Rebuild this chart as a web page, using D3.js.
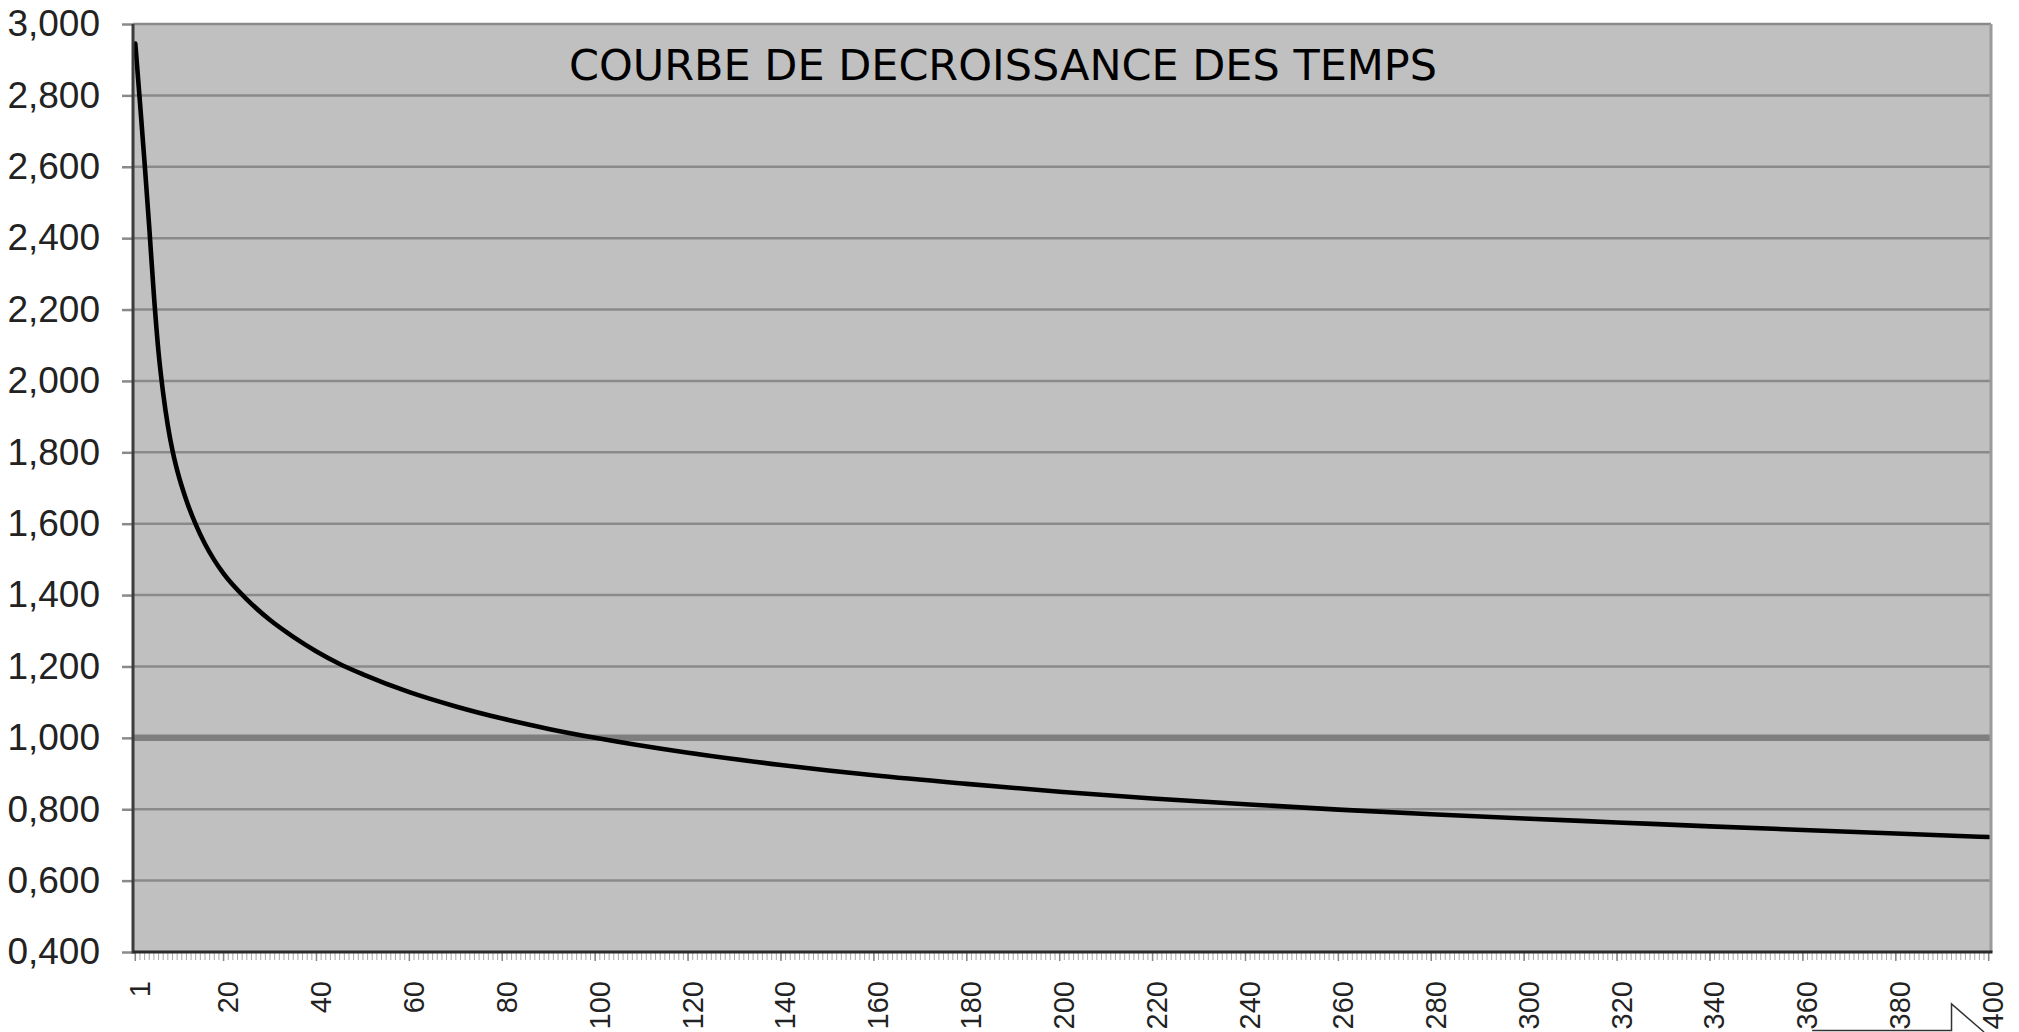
<!DOCTYPE html>
<html>
<head>
<meta charset="utf-8">
<script src="https://cdn.jsdelivr.net/npm/d3@7"></script>
<style>
  html, body { margin: 0; padding: 0; background: #ffffff; }
  svg { display: block; }
</style>
</head>
<body>
<svg id="chart" width="2019" height="1032"></svg>
<script>
// ---------- data ----------
const chartTitle = "COURBE DE DECROISSANCE DES TEMPS";
const categories = d3.range(1, 401);             // x categories 1 … 400
const xTickLabels = [1, 20, 40, 60, 80, 100, 120, 140, 160, 180, 200, 220, 240, 260, 280, 300, 320, 340, 360, 380, 400];
const yTickValues = [0.4, 0.6, 0.8, 1.0, 1.2, 1.4, 1.6, 1.8, 2.0, 2.2, 2.4, 2.6, 2.8, 3.0];
const referenceLevel = 1.0;

const pointCategory = [1, 2, 3, 4, 5, 6, 7, 8, 9, 10, 12, 14, 16, 18, 20, 25, 30, 35, 40, 45, 50, 60, 70, 80, 90, 100,
  120, 140, 160, 180, 200, 220, 240, 260, 280, 300, 320, 340, 360, 380, 400];
const timeRatio = [2.945, 2.78, 2.61, 2.43, 2.24, 2.08, 1.965, 1.875, 1.805, 1.75, 1.665, 1.598, 1.543, 1.498, 1.46,
  1.388, 1.33, 1.283, 1.242, 1.207, 1.178, 1.128, 1.088, 1.054, 1.025, 1.0,
  0.958, 0.924, 0.895, 0.871, 0.849, 0.830, 0.814, 0.799, 0.786, 0.774, 0.763, 0.752, 0.742, 0.732, 0.722];

// ---------- layout ----------
const svg = d3.select("#chart");
const plot = { left: 133, right: 1991, top: 24, bottom: 952 };

const x = d3.scaleBand().domain(categories).range([plot.left, plot.right]).padding(0);
const y = d3.scaleLinear().domain([0.4, 3.0]).range([plot.bottom, plot.top]);
const cx = c => x(c) + x.bandwidth() / 2;

const fmt = v => d3.format(".3f")(v).replace(".", ",");

// plot background
svg.append("rect")
  .attr("x", plot.left).attr("y", plot.top)
  .attr("width", plot.right - plot.left).attr("height", plot.bottom - plot.top)
  .attr("fill", "#c0c0c0");

// horizontal gridlines
svg.append("g").selectAll("line")
  .data(yTickValues.filter(v => v !== referenceLevel && v !== 0.4))
  .join("line")
  .attr("x1", plot.left).attr("x2", plot.right)
  .attr("y1", d => y(d)).attr("y2", d => y(d))
  .attr("stroke", "#8a8a8a").attr("stroke-width", 2.5);

// reference level (1,000) thicker line
svg.append("line")
  .attr("x1", plot.left).attr("x2", plot.right)
  .attr("y1", y(referenceLevel)).attr("y2", y(referenceLevel))
  .attr("stroke", "#7f7f7f").attr("stroke-width", 6.5);

// title (inside plot)
svg.append("text")
  .attr("x", 569).attr("y", 80)
  .attr("textLength", 868).attr("lengthAdjust", "spacingAndGlyphs")
  .attr("font-family", "'DejaVu Sans', Verdana, sans-serif")
  .attr("font-size", 43)
  .attr("fill", "#000")
  .text(chartTitle);

// curve
const line = d3.line()
  .x((d, i) => cx(pointCategory[i]))
  .y(d => y(d))
  .curve(d3.curveMonotoneX);

svg.append("path")
  .datum(timeRatio)
  .attr("d", line)
  .attr("fill", "none")
  .attr("stroke", "#000")
  .attr("stroke-width", 4.6)
  .attr("stroke-linejoin", "round")
  .attr("stroke-linecap", "round");

// right border
svg.append("line")
  .attr("x1", plot.right).attr("x2", plot.right)
  .attr("y1", plot.top).attr("y2", plot.bottom)
  .attr("stroke", "#9a9a9a").attr("stroke-width", 3);

// y axis
const yAxis = svg.append("g")
  .attr("transform", `translate(${plot.left},0)`)
  .call(d3.axisLeft(y).tickValues(yTickValues).tickSize(11).tickPadding(22).tickFormat(fmt));
yAxis.select(".domain").remove();
yAxis.selectAll(".tick line").attr("stroke", "#8a8a8a").attr("stroke-width", 2.5);
yAxis.selectAll(".tick text")
  .attr("font-family", "'Liberation Sans', Arial, sans-serif")
  .attr("font-size", 37)
  .attr("fill", "#222");

// x axis minor ticks (every category)
const xMinor = svg.append("g")
  .attr("transform", `translate(0,${plot.bottom})`)
  .call(d3.axisBottom(x).tickValues(categories).tickSize(8).tickFormat(""));
xMinor.select(".domain").remove();
xMinor.selectAll(".tick line").attr("stroke", "#a8a8a8").attr("stroke-width", 1);

// x axis labelled ticks
const xAxis = svg.append("g")
  .attr("transform", `translate(0,${plot.bottom})`)
  .call(d3.axisBottom(x).tickValues(xTickLabels).tickSize(9).tickFormat(d3.format("d")));
xAxis.select(".domain").remove();
xAxis.selectAll(".tick line").attr("stroke", "#888").attr("stroke-width", 1.5);
xAxis.selectAll(".tick text")
  .attr("font-family", "'Liberation Sans', Arial, sans-serif")
  .attr("font-size", 29)
  .attr("fill", "#222")
  .attr("transform", "rotate(-90)")
  .attr("text-anchor", "end")
  .attr("x", -29)
  .attr("y", 0)
  .attr("dy", "0.5em");

// axis lines
svg.append("line")
  .attr("x1", plot.left).attr("x2", plot.left)
  .attr("y1", plot.top).attr("y2", plot.bottom + 1.5)
  .attr("stroke", "#3c3c3c").attr("stroke-width", 3);
svg.append("line")
  .attr("x1", plot.left).attr("x2", plot.right + 1.5)
  .attr("y1", plot.bottom).attr("y2", plot.bottom)
  .attr("stroke", "#2a2a2a").attr("stroke-width", 3);

// small cropped shape at bottom-right edge of the original image
svg.append("path")
  .attr("d", `M${cx(362)},1030.5 H${cx(392)} V1004 L${cx(399)},1032`)
  .attr("fill", "none")
  .attr("stroke", "#333")
  .attr("stroke-width", 1.5);
</script>
</body>
</html>
